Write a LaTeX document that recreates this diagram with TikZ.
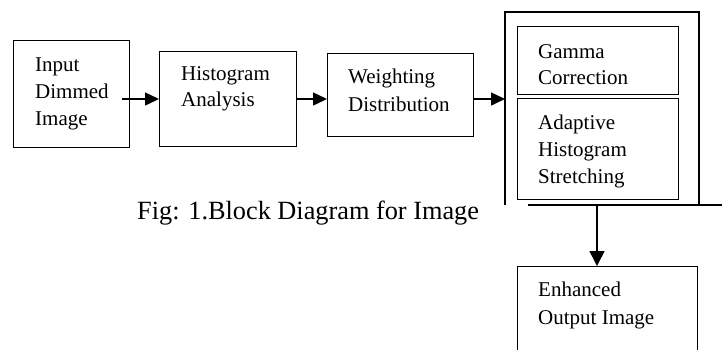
\documentclass[tikz,border=0pt]{standalone}
\usepackage{fontspec}
\setmainfont{Liberation Serif}
\usetikzlibrary{arrows.meta}
\begin{document}
\begin{tikzpicture}[x=1pt,y=-1pt,
  box/.style={draw=black,line width=1.3pt,inner sep=0pt,anchor=north west},
  ibox/.style={draw=black,line width=1.1pt,inner sep=0pt,anchor=north west},
  txt/.style={inner sep=0pt,anchor=base west,font=\fontsize{21}{25}\selectfont},
  captext/.style={inner sep=0pt,anchor=base west,font=\fontsize{26.3}{30}\selectfont},
  arr/.style={line width=1.5pt,-{Triangle[length=14pt,width=13pt]}},
  frameline/.style={line width=1.4pt}]
\useasboundingbox (0,0) rectangle (725,349);
\clip (0,0) rectangle (725,349);
% blocks
\node[box,minimum width=116pt,minimum height=107pt] (b1) at (13,40) {};
\node[box,minimum width=137pt,minimum height=95pt] (b2) at (159,51) {};
\node[box,minimum width=146pt,minimum height=83pt] (b3) at (327,53) {};
\node[ibox,minimum width=161pt,minimum height=68pt] (g) at (517,26) {};
\node[ibox,minimum width=161pt,minimum height=101pt] (ah) at (517,98) {};
\node[box,minimum width=180pt,minimum height=100pt] (out) at (517,266) {};
% texts
\node[txt] (t11) at (35,71) {Input};
\node[txt] (t12) at (35,98) {Dimmed};
\node[txt] (t13) at (35,125) {Image};
\node[txt] (t21) at (181,80) {Histogram};
\node[txt] (t22) at (181,106) {Analysis};
\node[txt] (t31) at (348,83) {Weighting};
\node[txt] (t32) at (348,111) {Distribution};
\node[txt] (t41) at (538,58) {Gamma};
\node[txt] (t42) at (538,84) {Correction};
\node[txt] (t51) at (538,129) {Adaptive};
\node[txt] (t52) at (538,156) {Histogram};
\node[txt] (t53) at (538,183) {Stretching};
\node[txt] (t61) at (538,296) {Enhanced};
\node[txt] (t62) at (538,324) {Output Image};
\node[captext] (caption) at (137,219) {Fig: 1.Block Diagram for Image};
% frame
\coordinate (fbl) at (505,205);
\coordinate (ftl) at (505,12);
\coordinate (ftr) at (699,12);
\coordinate (fbr) at (699,205);
\coordinate (bl) at (528,205);
\coordinate (br) at (722,205);
\coordinate (dn) at (597,205);
\coordinate (a1s) at (122,99);
\draw[frameline] (fbl) -- (ftl) -- (ftr) -- (fbr);
\draw[frameline] (bl) -- (br);
% arrows
\draw[arr] (a1s) -- (a1s -| b2.west);
\draw[arr] (a1s -| b2.east) -- (a1s -| b3.west);
\draw[arr] (a1s -| b3.east) -- (a1s -| fbl);
\draw[line width=1.5pt,-{Triangle[length=15pt,width=15pt]}] (dn) -- (dn |- out.north);
\end{tikzpicture}
\end{document}
